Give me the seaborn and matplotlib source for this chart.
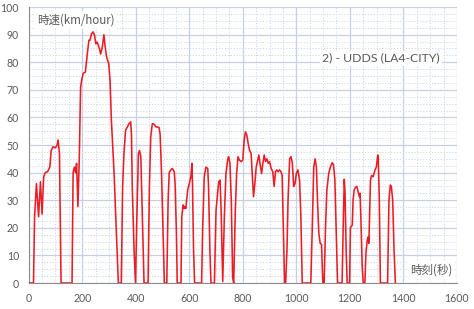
import numpy as np
import pandas as pd
import matplotlib
matplotlib.use("Agg")
import matplotlib.pyplot as plt
from matplotlib.ticker import MultipleLocator
import seaborn as sns

# ---- data ----
time_s = [0, 18, 22, 29, 37, 44, 50, 56, 62, 71, 79, 84, 91, 100, 106, 110, 115, 121,
          162, 166, 171, 175, 179, 184, 189, 194, 199, 204, 212, 219, 225, 229, 235, 241,
          246, 251, 256, 264, 269, 275, 281, 286, 291, 299, 304, 309, 314, 319, 325, 331,
          335, 346, 351, 356, 362, 369, 375, 381, 384, 387, 394, 399, 404, 410, 414, 419,
          425, 431, 446, 451, 456, 462, 469, 475, 487, 491, 496, 504, 507, 516, 521, 525,
          531, 537, 544, 547, 552, 555, 569, 572, 577, 581, 584, 587, 594, 600, 606, 610,
          612, 616, 620, 646, 650, 656, 662, 669, 672, 677, 681, 694, 700, 706, 710, 715,
          719, 725, 731, 737, 744, 747, 752, 757, 762, 766, 772, 777, 782, 787, 794, 800,
          805, 810, 815, 820, 825, 831, 835, 840, 845, 850, 856, 860, 865, 870, 875, 880,
          885, 890, 895, 900, 906, 912, 917, 922, 927, 932, 937, 942, 947, 952, 956, 960,
          965, 969, 975, 980, 985, 990, 995, 1000, 1006, 1012, 1017, 1022, 1054, 1059,
          1065, 1070, 1075, 1079, 1084, 1089, 1094, 1099, 1104, 1109, 1114, 1121, 1127,
          1134, 1139, 1144, 1149, 1154, 1171, 1175, 1179, 1182, 1186, 1190, 1199, 1202,
          1209, 1212, 1216, 1221, 1226, 1231, 1236, 1238, 1241, 1246, 1250, 1256, 1260,
          1265, 1269, 1271, 1274, 1277, 1281, 1287, 1294, 1299, 1304, 1306, 1310, 1314,
          1341, 1346, 1351, 1355, 1360, 1365, 1370]
speed_kmh = [0, 0, 24, 36, 24, 36.7, 25, 38.5, 40, 40.4, 42, 48, 49.4, 49, 50, 51.8, 47, 0,
             0, 40, 42, 40, 43.4, 27.7, 45, 71, 74, 76, 76.5, 83, 88, 88, 90.4, 91,
             89.8, 86.7, 87.3, 85, 83, 85.5, 90, 85.5, 82, 79.5, 73.5, 59, 49.4, 40, 25, 11,
             0, 0, 35, 47, 55.4, 56.6, 57.8, 58.4, 54, 35, 11, 0, 23, 47, 48, 45.8,
             23, 0, 0, 35, 53, 57.8, 57.5, 56.6, 56.4, 54, 41, 11, 0, 0, 30, 40,
             41, 41.5, 40.3, 36, 18, 0, 0, 24, 28.3, 27, 27.7, 27, 33.7, 36, 38.5, 43.4,
             36, 12, 0, 0, 20, 38.5, 42, 41.5, 35, 12, 0, 0, 26.4, 32.5, 36.7, 37.3,
             26.4, 0.5, 24, 39.7, 45, 45.8, 43.4, 30, 2, 0, 26.4, 39.7, 45.8, 44.6, 44, 44.6,
             51.8, 54.8, 53.6, 50.6, 48.2, 47, 39.7, 31.3, 36, 42, 44.6, 46.4, 42.8, 39.7, 43.4, 46.4,
             44, 45, 43.4, 44, 41.5, 40.3, 35, 40.3, 41, 40.3, 41, 40.5, 39, 18, 0, 0,
             12, 30, 45, 45.8, 43.4, 35, 36, 39.7, 41, 37.3, 24, 0, 0, 18,
             42, 45, 42, 30, 18, 14.4, 14, 0, 0, 20, 33.7, 39.7, 42,
             43.6, 42.8, 37.3, 18, 0, 0, 20, 37.6, 32.5, 12, 0, 0, 20,
             21, 30, 33.7, 34.7, 35, 33, 31.3, 32.5, 24, 6, 0, 0, 10.7,
             15.6, 16.8, 14.4, 26.4, 37.3, 39, 38.5, 41, 42, 46.4, 45.8, 30, 0,
             0, 30, 35.5, 35, 30, 12, 0]

x_ticks = [0, 200, 400, 600, 800, 1000, 1200, 1400, 1600]
y_ticks = [0, 10, 20, 30, 40, 50, 60, 70, 80, 90, 100]
title_text = "2) - UDDS (LA4-CITY)"
y_label_text = "時速(km/hour)"
x_label_text = "時刻(秒)"

df = pd.DataFrame({"t": time_s, "v": speed_kmh})

sns.set_style("white")
plt.rcParams["font.family"] = ["Lato", "DejaVu Sans"]

fig = plt.figure(figsize=(4.74, 3.09), dpi=100)
ax = fig.add_axes([0.0605, 0.0841, 0.9035, 0.8929])

sns.lineplot(data=df, x="t", y="v", ax=ax, color="#ec1c24", linewidth=1.15,
             estimator=None, sort=False, zorder=5)

ax.set_xlim(0, 1600)
ax.set_ylim(0, 100)
ax.set_xticks(x_ticks)
ax.set_yticks(y_ticks)
ax.xaxis.set_minor_locator(MultipleLocator(50))
ax.yaxis.set_minor_locator(MultipleLocator(2.5))
ax.set_xlabel("")
ax.set_ylabel("")

ax.grid(which="major", color="#c3d0e6", linewidth=0.9, linestyle="-", zorder=0)
ax.grid(which="minor", color="#cdd8ec", linewidth=0.7, linestyle=(0, (1.2, 1.8)), zorder=0)
ax.set_axisbelow(True)

for s in ["top", "right"]:
    ax.spines[s].set_visible(False)
for s in ["left", "bottom"]:
    ax.spines[s].set_color("#8c8c8c")
    ax.spines[s].set_linewidth(0.8)

ax.tick_params(axis="both", which="major", direction="out", length=3, width=0.8,
               color="#8c8c8c", labelsize=7.6, labelcolor="#595959", pad=4)
ax.tick_params(axis="both", which="minor", direction="in", length=2.5, width=0.6,
               color="#a0a0a0")

cjk = ["Noto Sans CJK JP", "DejaVu Sans"]
box = dict(facecolor="white", edgecolor="none", pad=1.5)
ax.text(177, 95.3, y_label_text, ha="center", va="center", fontsize=8.3,
        color="#595959", family=cjk, bbox=box, zorder=4)
ax.text(1504, 4.7, x_label_text, ha="center", va="center", fontsize=8.3,
        color="#595959", family=cjk, bbox=box, zorder=4)
ax.text(1317, 81.5, title_text, ha="center", va="center", fontsize=8.8,
        color="#595959", family=["Lato", "DejaVu Sans"], bbox=box, zorder=4)

fig.savefig("out.png", dpi=100)
